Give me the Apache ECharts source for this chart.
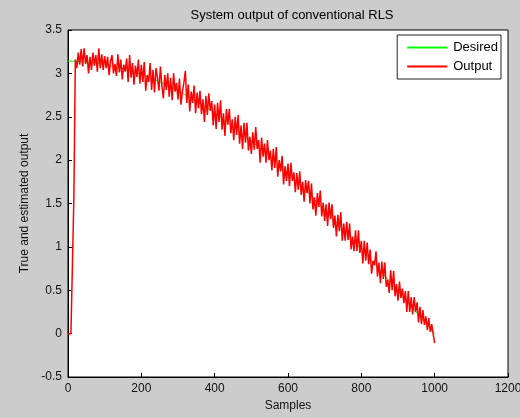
<!DOCTYPE html>
<html><head><meta charset="utf-8">
<script src="https://cdn.jsdelivr.net/npm/echarts@6/dist/echarts.min.js"></script>
<style>html,body{margin:0;padding:0;background:#cccccc;overflow:hidden}#c{width:520px;height:418px}</style>
</head><body><div id="c"></div>
<script>
const titleText = 'System output of conventional RLS';
const xName = 'Samples';
const yName = 'True and estimated output';
const seriesNames = ['Desired', 'Output'];
const xTicks = [0, 200, 400, 600, 800, 1000, 1200];
const yTicks = [-0.5, 0, 0.5, 1, 1.5, 2, 2.5, 3, 3.5];

// Desired: one value every 20 samples (0..1000)
const desiredStep = 20;
const desiredValues = [
  3.142, 3.140, 3.136, 3.128, 3.117, 3.103, 3.086, 3.066, 3.043, 3.017,
  2.988, 2.956, 2.921, 2.883, 2.843, 2.799, 2.753, 2.704, 2.653, 2.598,
  2.542, 2.482, 2.421, 2.357, 2.290, 2.221, 2.151, 2.078, 2.003, 1.926,
  1.847, 1.766, 1.683, 1.599, 1.513, 1.426, 1.338, 1.248, 1.156, 1.064,
  0.971, 0.876, 0.781, 0.685, 0.589, 0.492, 0.394, 0.296, 0.197, 0.099,
  0.000
];

// Output: one value every 4 samples (0..1000)
const outputStep = 4;
const outputValues = [
  0, 0, 0, 0, 1.57,
  3.16, 3.06, 3.24, 3.10, 3.28,
  3.08, 3.29, 3.11, 3.21, 3.00,
  3.19, 3.04, 3.24, 3.09, 3.21,
  3.02, 3.29, 3.06, 3.22, 3.04,
  3.20, 3.06, 3.19, 2.98, 3.14,
  3.21, 3.00, 3.11, 2.97, 3.22,
  3.01, 3.16, 2.93, 3.10, 3.02,
  3.17, 2.90, 3.21, 2.95, 3.12,
  2.87, 3.09, 2.96, 3.16, 2.88,
  3.10, 2.90, 3.13, 2.80, 2.98,
  2.90, 3.12, 2.81, 3.04, 2.78,
  3.06, 2.95, 2.80, 3.08, 2.86,
  2.71, 2.98, 2.81, 3.00, 2.73,
  2.95, 2.69, 3.00, 2.79, 2.89,
  2.70, 2.94, 2.64, 2.79, 2.89,
  3.03, 2.66, 2.87, 2.56, 2.79,
  2.66, 2.86, 2.54, 2.78, 2.60,
  2.80, 2.53, 2.70, 2.44, 2.74,
  2.52, 2.77, 2.57, 2.68, 2.40,
  2.64, 2.36, 2.66, 2.44, 2.69,
  2.35, 2.54, 2.28, 2.59, 2.41,
  2.59, 2.31, 2.47, 2.23, 2.50,
  2.29, 2.52, 2.19, 2.40, 2.13,
  2.43, 2.20, 2.43, 2.11, 2.27,
  2.07, 2.32, 2.12, 2.38, 2.13,
  2.23, 1.97, 2.26, 2.04, 2.19,
  1.97, 2.23, 2.00, 2.11, 1.88,
  2.13, 1.91, 2.15, 1.81, 2.00,
  1.87, 2.05, 1.72, 1.93, 1.76,
  1.96, 1.70, 1.97, 1.76, 1.86,
  1.63, 1.85, 1.66, 1.87, 1.60,
  1.75, 1.52, 1.77, 1.62, 1.76,
  1.50, 1.73, 1.43, 1.57, 1.36,
  1.62, 1.46, 1.65, 1.35, 1.51,
  1.30, 1.49, 1.24, 1.51, 1.32,
  1.49, 1.22, 1.36, 1.12, 1.37,
  1.18, 1.40, 1.07, 1.27, 1.07,
  1.29, 1.08, 1.27, 0.97, 1.12,
  0.95, 1.19, 0.95, 1.19, 0.93,
  1.07, 0.81, 1.07, 0.84, 1.05,
  0.80, 0.97, 0.69, 0.84, 0.79,
  0.95, 0.66, 0.82, 0.58, 0.83,
  0.63, 0.82, 0.54, 0.62, 0.47,
  0.73, 0.50, 0.72, 0.43, 0.57,
  0.38, 0.60, 0.41, 0.52, 0.35,
  0.49, 0.25, 0.49, 0.25, 0.42,
  0.22, 0.42, 0.25, 0.36, 0.13,
  0.31, 0.11, 0.27, 0.10, 0.20,
  0.04, 0.18, 0.02, 0.11, -0.01,
  -0.11
];

const font = '"Liberation Sans", Arial, sans-serif';
const desiredData = desiredValues.map((v, i) => [i * desiredStep, v]);
const outputData = outputValues.map((v, i) => [i * outputStep, v]);

const chart = echarts.init(document.getElementById('c'), null, {renderer: 'canvas'});
chart.setOption({
  backgroundColor: '#cccccc',
  animation: false,
  title: {
    text: titleText, left: 287, top: 4, textAlign: 'center',
    textStyle: {fontFamily: font, fontSize: 13, fontWeight: 'normal', color: '#000'}
  },
  legend: {
    data: seriesNames, orient: 'vertical', right: 19, top: 35,
    backgroundColor: '#fff', borderColor: '#222', borderWidth: 1, borderRadius: 0,
    padding: [6, 3, 6, 9], itemGap: 6, itemWidth: 40, itemHeight: 14,
    itemStyle: {opacity: 0},
    textStyle: {fontFamily: font, fontSize: 13, color: '#000', padding: [0, 0, 0, 1]}
  },
  grid: {
    left: 68, right: 12, top: 30, bottom: 41, containLabel: false, outerBoundsMode: 'none',
    show: true, backgroundColor: '#ffffff', borderColor: '#000', borderWidth: 1
  },
  xAxis: {
    type: 'value', min: xTicks[0], max: xTicks[xTicks.length - 1], interval: xTicks[1] - xTicks[0],
    name: xName, nameLocation: 'middle', nameGap: 23,
    nameTextStyle: {fontFamily: font, fontSize: 12, color: '#111'},
    axisLine: {show: true, onZero: false, lineStyle: {color: '#000', width: 1}},
    axisTick: {show: true, inside: true, length: 4, lineStyle: {color: '#000'}},
    axisLabel: {fontFamily: font, fontSize: 12, color: '#111', margin: 6, formatter: v => String(v)},
    splitLine: {show: false}
  },
  yAxis: {
    type: 'value', min: yTicks[0], max: yTicks[yTicks.length - 1], interval: yTicks[1] - yTicks[0],
    name: yName, nameLocation: 'middle', nameGap: 37, nameRotate: 90,
    nameTextStyle: {fontFamily: font, fontSize: 12, color: '#111'},
    axisLine: {show: true, onZero: false, lineStyle: {color: '#000', width: 1}},
    axisTick: {show: true, inside: true, length: 4, lineStyle: {color: '#000'}},
    axisLabel: {fontFamily: font, fontSize: 12, color: '#111', margin: 6, formatter: v => String(v)},
    splitLine: {show: false}
  },
  series: [
    {
      name: seriesNames[0], type: 'line', data: desiredData, symbol: 'none', z: 2,
      lineStyle: {color: '#00ff00', width: 1}, itemStyle: {color: '#00ff00'}
    },
    {
      name: seriesNames[1], type: 'line', data: outputData, symbol: 'none', z: 3,
      lineStyle: {color: '#ff0000', width: 1.5}, itemStyle: {color: '#ff0000'}
    }
  ]
});
</script></body></html>
